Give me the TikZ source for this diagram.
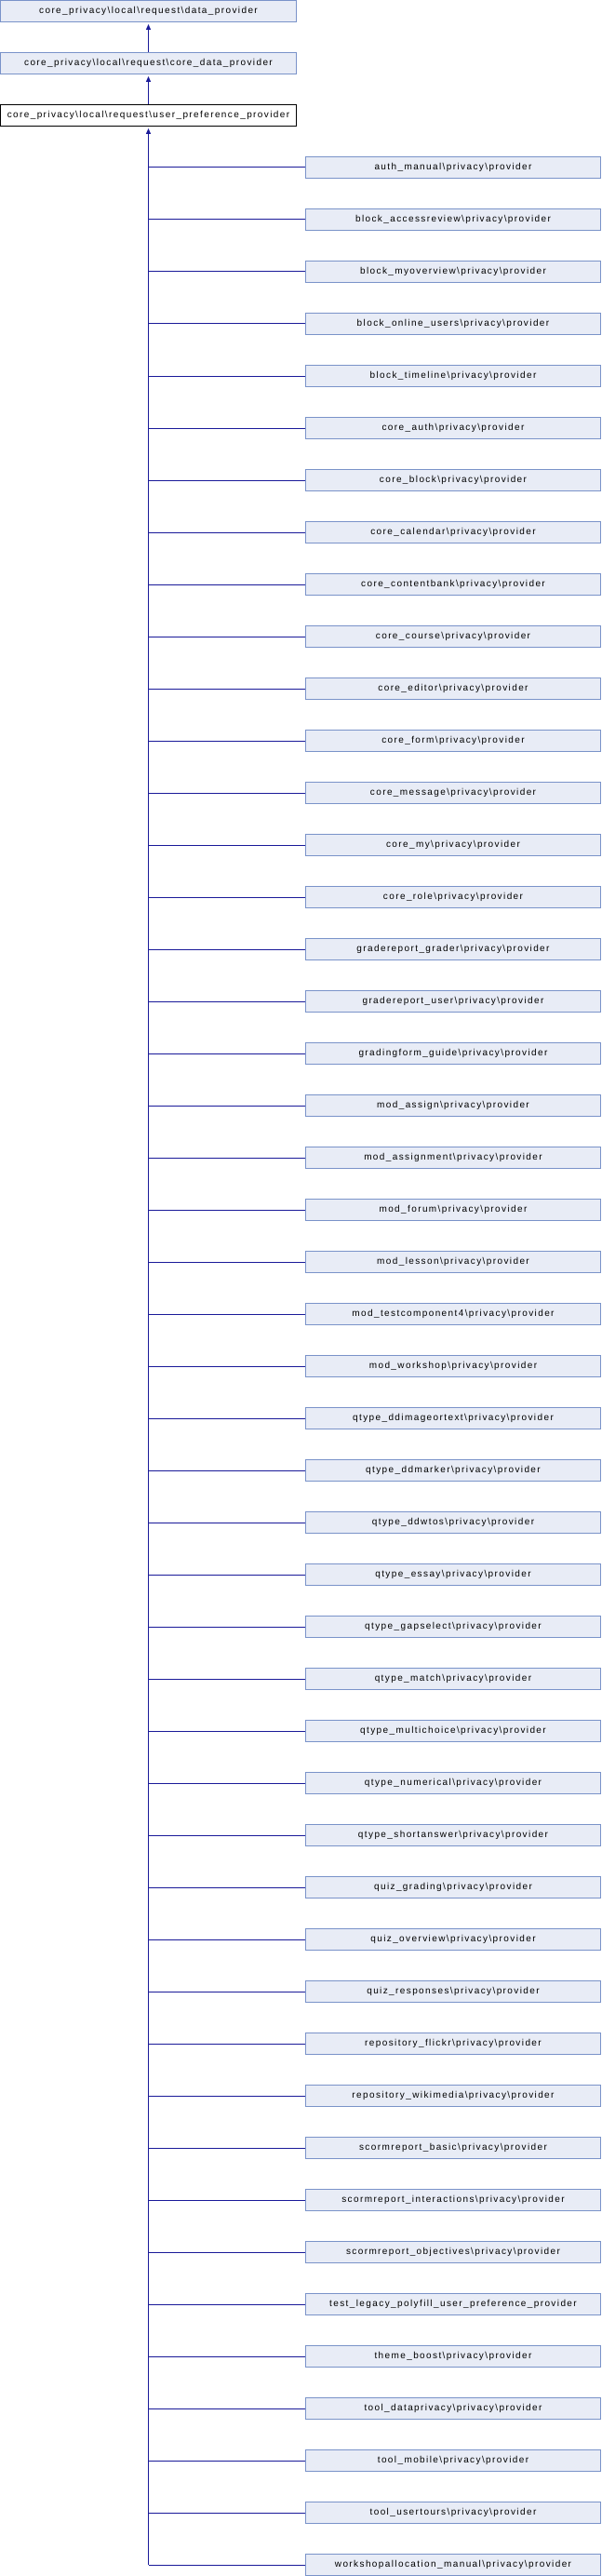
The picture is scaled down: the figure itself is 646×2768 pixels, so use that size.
\documentclass[tikz,border=0pt]{standalone}
\usepackage{fontspec}
\setmainfont{Liberation Sans}[LetterSpace=14]
\usetikzlibrary{arrows.meta}
\definecolor{boxfill}{HTML}{E8ECF6}
\definecolor{boxline}{HTML}{7A93C9}
\definecolor{edgeblue}{HTML}{1A1A99}
\newcommand{\bsl}{\textbackslash}

\begin{document}
\begin{tikzpicture}[x=0.75pt,y=-0.75pt,
    cls/.style={draw=boxline, fill=boxfill, line width=0.75pt,
      minimum width=238pt, minimum height=17.25pt, inner sep=0pt,
      font=\fontsize{7.5}{9}\selectfont},
    curcls/.style={cls, draw=black, fill=white},
    edge/.style={draw=edgeblue, line width=0.75pt},
    inh/.style={edge, -{Triangle[length=4.5pt,width=3.8pt]}, shorten >=1.5pt}]
        %RAHMEN
        \useasboundingbox (0,0) rectangle (646,2768);
        %BASISKLASSEN
        \node[cls] (dataprov) at (159.5,12) {core\_privacy\bsl local\bsl request\bsl data\_provider};
        \node[cls] (coredataprov) at (159.5,68) {core\_privacy\bsl local\bsl request\bsl core\_data\_provider};
        \node[curcls] (userprefprov) at (159.5,124) {core\_privacy\bsl local\bsl request\bsl user\_preference\_provider};
        \draw[inh] (coredataprov) -- (dataprov);
        \draw[inh] (userprefprov) -- (coredataprov);
        %ABGELEITETE KLASSEN
        \foreach \name [count=\i] in {
            auth\_manual\bsl privacy\bsl provider,
            block\_accessreview\bsl privacy\bsl provider,
            block\_myoverview\bsl privacy\bsl provider,
            block\_online\_users\bsl privacy\bsl provider,
            block\_timeline\bsl privacy\bsl provider,
            core\_auth\bsl privacy\bsl provider,
            core\_block\bsl privacy\bsl provider,
            core\_calendar\bsl privacy\bsl provider,
            core\_contentbank\bsl privacy\bsl provider,
            core\_course\bsl privacy\bsl provider,
            core\_editor\bsl privacy\bsl provider,
            core\_form\bsl privacy\bsl provider,
            core\_message\bsl privacy\bsl provider,
            core\_my\bsl privacy\bsl provider,
            core\_role\bsl privacy\bsl provider,
            gradereport\_grader\bsl privacy\bsl provider,
            gradereport\_user\bsl privacy\bsl provider,
            gradingform\_guide\bsl privacy\bsl provider,
            mod\_assign\bsl privacy\bsl provider,
            mod\_assignment\bsl privacy\bsl provider,
            mod\_forum\bsl privacy\bsl provider,
            mod\_lesson\bsl privacy\bsl provider,
            mod\_testcomponent4\bsl privacy\bsl provider,
            mod\_workshop\bsl privacy\bsl provider,
            qtype\_ddimageortext\bsl privacy\bsl provider,
            qtype\_ddmarker\bsl privacy\bsl provider,
            qtype\_ddwtos\bsl privacy\bsl provider,
            qtype\_essay\bsl privacy\bsl provider,
            qtype\_gapselect\bsl privacy\bsl provider,
            qtype\_match\bsl privacy\bsl provider,
            qtype\_multichoice\bsl privacy\bsl provider,
            qtype\_numerical\bsl privacy\bsl provider,
            qtype\_shortanswer\bsl privacy\bsl provider,
            quiz\_grading\bsl privacy\bsl provider,
            quiz\_overview\bsl privacy\bsl provider,
            quiz\_responses\bsl privacy\bsl provider,
            repository\_flickr\bsl privacy\bsl provider,
            repository\_wikimedia\bsl privacy\bsl provider,
            scormreport\_basic\bsl privacy\bsl provider,
            scormreport\_interactions\bsl privacy\bsl provider,
            scormreport\_objectives\bsl privacy\bsl provider,
            test\_legacy\_polyfill\_user\_preference\_provider,
            theme\_boost\bsl privacy\bsl provider,
            tool\_dataprivacy\bsl privacy\bsl provider,
            tool\_mobile\bsl privacy\bsl provider,
            tool\_usertours\bsl privacy\bsl provider,
            workshopallocation\_manual\bsl privacy\bsl provider}
          \node[cls] (sub\i) at (487,124+56*\i) {\name};
        %STAMM
        \coordinate (trunkend) at (userprefprov.south |- sub47.west);
        \draw[inh] (trunkend) -- (userprefprov);
        %ZWEIGE
        \foreach \i in {1,...,47}
          \draw[edge] (sub\i.west) -- (sub\i.west -| userprefprov.south);
\end{tikzpicture}
\end{document}
